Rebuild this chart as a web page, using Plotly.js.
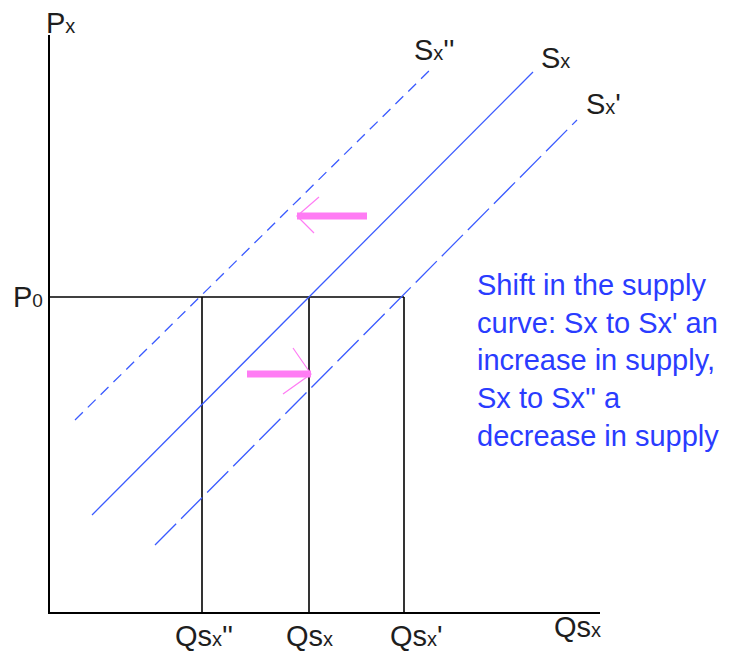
<!DOCTYPE html>
<html>
<head>
<meta charset="utf-8">
<script src="https://cdn.plot.ly/plotly-3.0.1.min.js"></script>
<style>html,body{margin:0;padding:0;background:#fff;}#chart{width:742px;height:652px;}</style>
</head>
<body>
<div id="chart"></div>
<script>
// Supply curves (quantity, price) endpoints
const sxQ = [42, 483];   const sxP = [97, 540];    // Sx
const sx1Q = [105, 527]; const sx1P = [67, 492];   // Sx'  (increase)
const sx2Q = [25, 382];  const sx2P = [192, 544];  // Sx'' (decrease)

// Price level and equilibrium quantities
const p0 = 315;
const qLabels = ["Qs<span style='font-size:20px'>x</span>''", "Qs<span style='font-size:20px'>x</span>", "Qs<span style='font-size:20px'>x</span>'"];
const qValues = [152, 259, 354];

// Shift arrows (pink)
const leftArrowQ = [317, 247];  const leftArrowP = [396, 396];
const leftHeadQ = [269, 247, 264]; const leftHeadP = [415, 396, 379];
const rightArrowQ = [197, 261]; const rightArrowP = [238, 238];
const rightHeadQ = [243, 261, 233]; const rightHeadP = [264, 238, 218];

const X_MAX = 550, Y_MAX = 577;
const blue = '#3b5bff';
const pink = '#ff7cf4';
const txt = '#1e1e1e';
const F = 'Liberation Sans, Arial, Helvetica, sans-serif';

const traces = [];
traces.push({x: [0, Math.max(...qValues)], y: [p0, p0], mode: 'lines', line: {color: '#000', width: 1.6}});
qValues.forEach(q => traces.push({x: [q, q], y: [0, p0], mode: 'lines', line: {color: '#000', width: 1.6}}));
traces.push({x: sxQ, y: sxP, mode: 'lines', line: {color: blue, width: 1.3}});
traces.push({x: sx1Q, y: sx1P, mode: 'lines', line: {color: blue, width: 1.3, dash: '30px,7px'}});
traces.push({x: sx2Q, y: sx2P, mode: 'lines', line: {color: blue, width: 1.3, dash: '11px,7px'}});
traces.push({x: leftArrowQ, y: leftArrowP, mode: 'lines', line: {color: pink, width: 7}});
traces.push({x: leftHeadQ, y: leftHeadP, mode: 'lines', line: {color: pink, width: 1.2}});
traces.push({x: rightArrowQ, y: rightArrowP, mode: 'lines', line: {color: pink, width: 7}});
traces.push({x: rightHeadQ, y: rightHeadP, mode: 'lines', line: {color: pink, width: 1.2}});

const ann = [];
function lab(text, x, y, xanchor, size, color) {
  ann.push({text: text, x: x / X_MAX, y: y / Y_MAX, xref: 'paper', yref: 'paper', xanchor: xanchor || 'center', yanchor: 'middle',
    showarrow: false, font: {family: F, size: size || 29, color: color || txt}, align: 'left'});
}
lab("P<span style='font-size:20px'>x</span>", -6, 589, 'left');
lab("P<span style='font-size:19px'>0</span>", -39, 315, 'left');
lab("S<span style='font-size:20px'>x</span>''", 362, 562, 'left');
lab("S<span style='font-size:20px'>x</span>", 489, 554, 'left');
lab("S<span style='font-size:20px'>x</span>'", 534, 508, 'left');
qValues.forEach((q, i) => lab(qLabels[i], q + [2, 0, 12][i], -24, 'center'));
lab("Qs<span style='font-size:20px'>x</span>", 502, -15, 'left');
lab("Shift in the supply<br>curve: Sx to Sx' an<br>increase in supply,<br>Sx to Sx'' a<br>decrease in supply", 425, 252, 'left', 29, '#2a3cff');

const layout = {
  width: 742, height: 652,
  margin: {l: 50, r: 142, t: 35, b: 40, pad: 0},
  paper_bgcolor: '#fff', plot_bgcolor: '#fff',
  showlegend: false,
  xaxis: {range: [0, X_MAX], showline: true, linecolor: '#000', linewidth: 1.6, showgrid: false, zeroline: false,
          showticklabels: false, ticks: '', fixedrange: true},
  yaxis: {range: [0, Y_MAX], showline: true, linecolor: '#000', linewidth: 1.6, showgrid: false, zeroline: false,
          showticklabels: false, ticks: '', fixedrange: true},
  annotations: ann
};
Plotly.newPlot('chart', traces, layout, {staticPlot: true, displayModeBar: false});
</script>
</body>
</html>
